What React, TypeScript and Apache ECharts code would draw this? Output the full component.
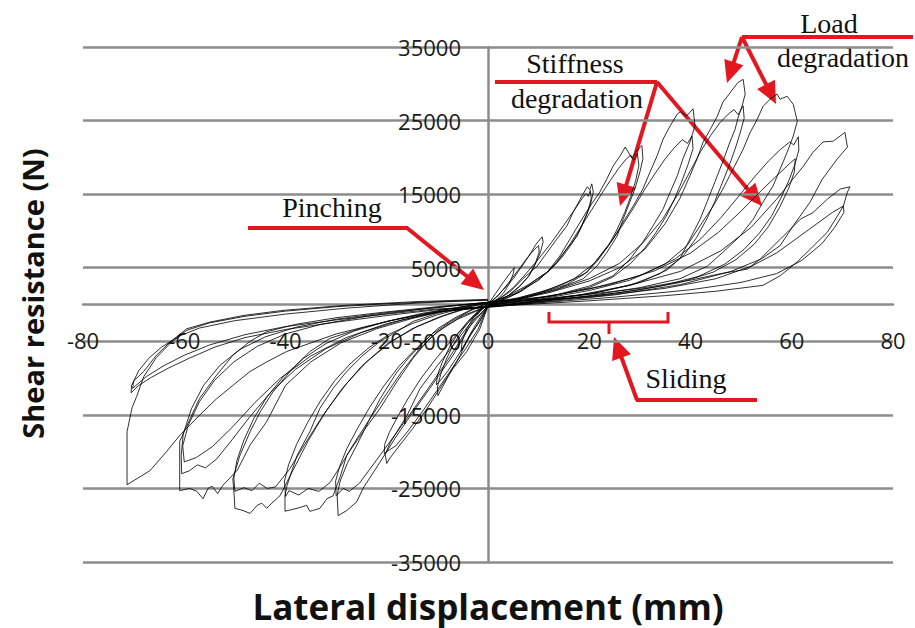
import React, { useEffect, useRef } from "react";
import * as echarts from "echarts";

// Axis ranges and tick steps
const xRange = [-80, 80];
const xStep = 20;
const yRange = [-35000, 35000];
const yStep = 10000;

// Hysteresis cycles: [displacement (mm), shear resistance (N)]
const cycle05 = [
  [0, 0], [1.5, 1500], [3, 3000], [4.5, 4400], [5.2, 5000], [5, 4200], [4.2, 2800], [3, 1500], [1.5, 500], [0, -100],
  [-1.5, -1700], [-3, -3400], [-4.5, -5300], [-5.3, -6300], [-5.1, -5000], [-4.2, -3300], [-2.8, -1700], [-1.2, -500], [0, 100],
];
const cycle10a = [
  [0, 0], [1.5, 900], [3, 2000], [5, 3500], [6.5, 5000], [8, 6500], [9.5, 8200], [10.7, 9200], [10.9, 8500], [10.3, 7000],
  [9.3, 5400], [8, 3800], [6.2, 2400], [4, 1200], [2, 400], [0, -200],
  [-1.6, -2300], [-3.6, -4200], [-5.5, -6900], [-7.5, -9300], [-9.9, -12400], [-10, -11200], [-9.3, -9400], [-8.2, -7400],
  [-6.8, -5400], [-5.2, -3600], [-3.4, -2000], [-1.6, -800], [0, 100],
];
const cycle10b = [
  [0, 100], [2, 1200], [4, 2900], [6, 4700], [7.8, 6400], [9.2, 7500], [10, 8000], [10.1, 7100], [9.4, 5700], [8.2, 4000],
  [6.4, 2600], [4.2, 1300], [2, 400], [0, -200],
  [-2, -2600], [-4, -4800], [-6, -7000], [-8, -9100], [-9.5, -10400], [-10.2, -10900], [-10, -9600], [-9, -7800], [-7.6, -5800],
  [-6, -4000], [-4, -2300], [-2, -900], [0, 100],
];
const cycle20a = [
  [0, 0], [2, 700], [4.3, 1700], [6.9, 3500], [9.7, 5200], [11.7, 7100], [13.6, 8900], [15.6, 10700], [16.8, 12500], [18.2, 14300],
  [19.6, 16000], [20.1, 15600], [20.5, 16400], [20.8, 15300], [20.2, 13400], [18.8, 11200], [17.6, 9300], [15.6, 7600], [13.6, 5800],
  [11.7, 4400], [8.9, 3100], [6.3, 1700], [3, 700], [0, -200],
  [-1.6, -3300], [-4.2, -6400], [-6.9, -8700], [-9.5, -11400], [-12, -14100], [-14.8, -16800], [-17.4, -19100], [-19.4, -20900],
  [-20, -21600], [-20.3, -20400], [-19.4, -18900], [-18, -17300], [-16, -15100], [-13.4, -11400], [-10, -8300], [-6.9, -5600],
  [-4, -3000], [-1.5, -900], [0, 100],
];
const cycle20b = [
  [0, 100], [2.5, 900], [5, 2300], [7.5, 4200], [10, 6200], [12.5, 8400], [15, 10800], [17, 12800], [18.6, 14400], [19.4, 15100],
  [19.8, 14700], [20.2, 15500], [20.4, 14400], [19.6, 12400], [18.3, 10300], [16.6, 8300], [14.6, 6400], [12.3, 4700], [9.6, 3200],
  [6.8, 1900], [3.6, 800], [0, -200],
  [-2, -3400], [-4.6, -6200], [-7.4, -9000], [-10.2, -11800], [-13, -14600], [-15.8, -17200], [-18.2, -19200], [-20, -20000],
  [-20.5, -20300], [-20.4, -19000], [-19.5, -17400], [-17.9, -15300], [-15.8, -12800], [-13.2, -10000], [-10.2, -7300], [-7, -4700],
  [-4, -2500], [-1.6, -900], [0, 100],
];
const cycle30a = [
  [0, 0], [4, 1200], [8, 2700], [11.7, 4400], [14.2, 6600], [16.2, 8900], [18.2, 11200], [20.2, 13400], [22.1, 15300], [23.5, 17100],
  [24.7, 18800], [26.1, 20200], [27.1, 21400], [28.4, 19900], [29.5, 21000], [30.4, 21600], [30.6, 19800], [30, 18000], [29, 15700],
  [28, 13900], [26.7, 11600], [25.5, 9300], [23.5, 7100], [21.5, 5200], [18.8, 3500], [14, 2200], [8, 1000], [0, -200],
  [-3, -2300], [-6.9, -6900], [-11.5, -11400], [-14.8, -14600], [-18, -17800], [-21.3, -21400], [-24.7, -25000], [-25.9, -26800],
  [-27.9, -28000], [-29.6, -28700], [-29.8, -25900], [-29.2, -24000], [-27.8, -21600], [-25.9, -19100], [-23.6, -15900],
  [-21.3, -12800], [-18, -9200], [-15.6, -7200], [-13.4, -5600], [-10, -3300], [-6.5, -1800], [-3, -600], [0, 200],
];
const cycle30b = [
  [0, 200], [5, 1400], [10, 3300], [13.5, 5600], [16, 8000], [18.4, 10600], [20.5, 12900], [22.4, 15000], [24.2, 16900],
  [25.8, 18500], [27.2, 19700], [28.2, 20300], [28.8, 19600], [29.5, 20500], [29.8, 18900], [29.2, 16900], [28.2, 14700],
  [27, 12500], [25.5, 10200], [23.8, 8000], [21.6, 5900], [19, 4100], [15.5, 2700], [10, 1500], [4, 400], [0, -200],
  [-4, -3300], [-8, -7600], [-12, -11600], [-15.6, -15100], [-19, -18300], [-22.4, -21500], [-25.4, -24300], [-27.4, -25400],
  [-28.6, -25000], [-30, -26000], [-30.1, -24000], [-29.3, -22000], [-27.9, -19600], [-25.9, -17000], [-23.4, -14000],
  [-20.6, -11100], [-17.6, -8400], [-14.4, -6100], [-11, -4000], [-7.4, -2300], [-3.6, -900], [0, 200],
];
const cycle40a = [
  [0, 0], [5, 700], [10, 1600], [15, 2800], [19.6, 4400], [22.1, 6600], [24.7, 8900], [26.7, 11200], [28.7, 13400], [30.6, 15700],
  [32, 18000], [33.4, 20200], [34.6, 22500], [36, 24300], [37.4, 25900], [38, 26200], [39.2, 25600], [40.5, 26600], [40.9, 24300],
  [39.9, 22100], [38.5, 19800], [37.4, 17500], [36, 15300], [34.6, 13000], [32.6, 10700], [30.6, 8500], [28.1, 6200], [24.7, 3900],
  [20, 2500], [14, 1400], [7, 600], [0, -200],
  [-4.9, -1500], [-8.1, -2800], [-11.5, -4600], [-14.8, -7300], [-18, -10500], [-21.3, -14100], [-24.7, -17300], [-27.9, -20500],
  [-29.2, -23400], [-30.6, -26000], [-31.8, -26400], [-33.2, -27700], [-34.6, -28000], [-35.2, -28100], [-35.8, -27300],
  [-37.7, -27700], [-40.1, -28100], [-40.1, -26000], [-39.7, -24600], [-37.7, -20500], [-35.2, -17300], [-33.2, -14100],
  [-30.6, -11400], [-27.9, -9100], [-24.7, -6900], [-21.3, -5000], [-18, -3700], [-14.8, -2300], [-10, -1200], [-5, -400], [0, 200],
];
const cycle40b = [
  [0, 200], [6, 900], [12, 2000], [17, 3500], [21, 5600], [24, 8200], [26.6, 10800], [28.9, 13300], [31, 15700], [33, 17800],
  [35, 19800], [36.8, 21300], [38.4, 22400], [39.4, 21900], [40.3, 22900], [40.5, 21200], [39.5, 19000], [38.2, 16600],
  [36.8, 14300], [35.2, 12000], [33.2, 9800], [31, 7700], [28.2, 5600], [24.6, 3700], [20, 2300], [13, 1200], [6, 400], [0, -200],
  [-6, -2000], [-10, -3700], [-13.6, -6100], [-17, -9100], [-20.2, -12300], [-23.4, -15600], [-26.4, -18800], [-29, -21800],
  [-31.2, -24200], [-33.4, -25400], [-35.5, -25000], [-37.4, -25900], [-39.3, -25300], [-40, -26100], [-40.2, -24000],
  [-39.4, -21800], [-37.8, -19000], [-35.6, -16000], [-33, -13000], [-30.2, -10300], [-27, -7900], [-23.4, -5800], [-19.4, -4000],
  [-15, -2600], [-10, -1400], [-5, -500], [0, 200],
];
const cycle50a = [
  [0, 0], [5, 600], [12, 1600], [20, 3200], [26, 5000], [31, 7500], [35, 11000], [37.9, 14400], [39.9, 17500], [41.3, 19800],
  [42.5, 22100], [43.9, 23800], [45.3, 25600], [46.4, 27500], [48.4, 29300], [49.4, 30200], [50.4, 30600], [50.8, 28600],
  [50.2, 27000], [49.4, 25400], [48.8, 23800], [47.8, 22100], [46.8, 20200], [45.8, 18400], [44.5, 16100], [43.3, 14000],
  [41.9, 11600], [39.9, 8900], [37.9, 6200], [34, 4200], [28, 2600], [20, 1400], [10, 500], [0, -300],
  [-4, -500], [-9, -1600], [-14, -3000], [-19, -5000], [-24, -7800], [-28, -10800], [-32, -14500], [-35.5, -18500],
  [-38.5, -22500], [-41.1, -26000], [-42.7, -27000], [-43.7, -27700], [-44.7, -27000], [-45.6, -27300], [-47, -28400],
  [-48.4, -28000], [-50, -27700], [-50.1, -26300], [-50.4, -23700], [-49, -20500], [-47, -17300], [-45, -14600], [-42.5, -11900],
  [-39.1, -9100], [-35.2, -6400], [-31.2, -4600], [-25, -3200], [-18, -2000], [-10, -900], [0, 300],
];
const cycle50b = [
  [0, 300], [6, 800], [13, 1900], [20, 3500], [26, 5600], [30.5, 8300], [34.5, 11600], [37.5, 15000], [40, 18200], [42, 20800],
  [44, 23000], [45.8, 24700], [47.5, 25900], [48.6, 26500], [49.4, 25800], [50.4, 27000], [50.6, 25300], [49.8, 23300],
  [48.8, 21100], [47.6, 18800], [46.2, 16400], [44.8, 14000], [43.2, 11600], [41.2, 9100], [38.8, 6800], [35.4, 4700], [30, 3000],
  [22, 1700], [12, 700], [0, -300],
  [-5, -600], [-10, -1800], [-15, -3300], [-20, -5400], [-25, -8400], [-29, -11600], [-32.8, -15300], [-36.2, -19000],
  [-39.2, -22400], [-42, -24800], [-43.6, -25000], [-45.2, -24300], [-46.6, -25300], [-48.2, -24900], [-50, -25400],
  [-50.2, -23600], [-49.6, -21200], [-48.2, -18400], [-46.2, -15400], [-43.6, -12500], [-40.4, -9800], [-36.6, -7400], [-32, -5300],
  [-26.4, -3600], [-20, -2300], [-13, -1200], [-6, -400], [0, 300],
];
const cycle60a = [
  [0, 0], [10, 700], [20, 1900], [28, 3300], [35, 5500], [39.3, 8000], [41.9, 10700], [44.5, 13400], [46.4, 15700], [48.4, 18400],
  [50.4, 21100], [51.8, 23400], [53.2, 25200], [54.3, 26900], [55.7, 27900], [56.3, 28200], [57.1, 28600], [57.7, 27900],
  [59.1, 28300], [60.3, 27200], [61.1, 24900], [60.3, 22900], [59.1, 20700], [57.7, 18400], [56.3, 16100], [54.3, 13900],
  [52.4, 11600], [49.8, 9300], [46.4, 7100], [43.3, 5200], [37.9, 3500], [30, 2300], [20, 1200], [10, 400], [0, -300],
  [-8, -800], [-15, -1900], [-22, -3300], [-29, -5200], [-35, -7800], [-40, -11000], [-43.7, -15900], [-47, -19100],
  [-49.5, -22500], [-52.4, -24600], [-53.4, -25700], [-54.5, -24700], [-55.3, -25000], [-56.3, -26400], [-57.5, -25400],
  [-58.9, -25000], [-60.9, -25300], [-60.9, -18600], [-57, -12800], [-53.6, -9600], [-50.4, -6900], [-47, -5000], [-43.7, -3700],
  [-38, -2700], [-30, -1800], [-20, -1000], [-10, -300], [0, 300],
];
const cycle60b = [
  [0, 300], [10, 900], [20, 2100], [30, 3900], [37, 6200], [42, 8900], [46, 11800], [49.5, 14700], [52.6, 17300], [55.4, 19500],
  [57.8, 21100], [59.6, 22100], [60.4, 21700], [61.3, 22800], [61.4, 21000], [60.6, 19000], [59.4, 16800], [57.8, 14400],
  [56, 12000], [53.6, 9700], [50.6, 7500], [46.8, 5500], [41.5, 3800], [34, 2500], [25, 1500], [14, 700], [0, -300],
  [-9, -900], [-17, -2100], [-25, -3800], [-32, -6000], [-38, -8800], [-43, -12000], [-47.2, -15400], [-50.8, -18600],
  [-53.6, -21000], [-55.8, -22200], [-57.4, -21800], [-59, -22600], [-60.5, -23000], [-60.6, -20500], [-60.2, -17600],
  [-58.6, -14200], [-56.2, -11000], [-53, -8300], [-49, -6100], [-44, -4400], [-38, -3100], [-30, -2000], [-20, -1100],
  [-10, -400], [0, 300],
];
const cycle60c = [
  [0, 300], [12, 1100], [24, 2700], [33, 4600], [40, 7000], [45.5, 9800], [50, 12700], [54, 15500], [57.5, 17800], [59.8, 19300],
  [60.7, 19800], [60.5, 18000], [59.4, 15800], [57.6, 13200], [55.4, 10600], [52.6, 8200], [49, 6100], [44.5, 4400], [38, 3000],
  [30, 2000], [20, 1100], [10, 400], [0, -300],
  [-10, -1000], [-20, -2600], [-28, -4500], [-35, -7000], [-41, -10000], [-46, -13300], [-50.4, -16600], [-54.4, -19300],
  [-57.6, -20800], [-60, -21400], [-60.3, -19200], [-59.2, -16400], [-57, -13200], [-54, -10300], [-50.2, -7800], [-45.6, -5700],
  [-40, -4000], [-33, -2700], [-24, -1600], [-14, -700], [0, 300],
];
const cycle70a = [
  [0, 0], [8, 400], [18, 1300], [28, 2600], [38, 4500], [46, 7300], [52, 10500], [57, 14300], [59.7, 16600], [62.3, 18800],
  [64.2, 20700], [66.2, 22100], [68.2, 22200], [70.5, 23400], [71, 21400], [69, 19800], [66, 17000], [63.6, 13900], [60.3, 10700],
  [57.7, 8000], [54, 6200], [48, 4500], [38, 2700], [25, 1300], [12, 400], [0, -400],
  [-10, -1000], [-20, -2300], [-30, -4000], [-39.8, -6400], [-43.7, -7800], [-47, -9100], [-50.4, -11000], [-53.6, -12800],
  [-56.9, -15000], [-60.9, -17800], [-63.5, -20000], [-66.8, -22600], [-71.3, -24500], [-71.3, -17300], [-70.3, -14000],
  [-69.4, -12500], [-68, -9800], [-65.5, -7200], [-62.8, -5300], [-59.5, -3500], [-55, -2500], [-48, -1600], [-40, -900],
  [-30, -300], [-20, 100], [-10, 400], [0, 600],
];
const cycle70b = [
  [0, 300], [10, 700], [20, 1400], [30, 2200], [40, 3300], [46, 4200], [51.2, 4800], [53.8, 6200], [56.3, 7900], [59.1, 9800],
  [61.7, 11600], [64.2, 12500], [67, 14300], [69.6, 15700], [71.5, 16000], [71, 15300], [70.2, 13400], [69, 12000], [67, 9800],
  [64.2, 7900], [61.1, 5800], [57.7, 3900], [54.3, 2600], [45, 1800], [35, 1200], [20, 500], [0, -300],
  [-10, -700], [-20, -1500], [-30, -2400], [-40, -3400], [-48, -4500], [-54, -5800], [-59, -7300], [-63, -8600], [-66.5, -9900],
  [-69, -11000], [-70.5, -12000], [-70.4, -11000], [-69, -9000], [-67, -7300], [-64.5, -5800], [-61, -4300], [-57, -3200],
  [-50, -2200], [-40, -1300], [-28, -500], [-14, 200], [0, 600],
];
const cycle70c = [
  [0, 300], [10, 600], [20, 1000], [35, 2200], [45, 3500], [52, 5200], [57, 7000], [61, 9000], [65, 11000], [68, 12500],
  [70.2, 13400], [70.3, 12500], [68.5, 10500], [66, 8300], [62, 6000], [57, 4200], [50, 3000], [40, 2000], [25, 1000], [0, -300],
  [-10, -600], [-20, -1300], [-30, -2100], [-40, -3000], [-48, -4100], [-55, -5500], [-60, -6900], [-64, -8300], [-67.5, -9800],
  [-70.2, -11400], [-70, -10400], [-68, -9100], [-65.5, -6900], [-62.8, -5100], [-59.5, -3300], [-55, -2400], [-48.4, -1500],
  [-40.5, -800], [-28, -100], [-14, 400], [0, 700],
];

const cycles = [
  cycle05, cycle10a, cycle10b, cycle20a, cycle20b, cycle30a, cycle30b, cycle40a, cycle40b,
  cycle50a, cycle50b, cycle60a, cycle60b, cycle60c, cycle70a, cycle70b, cycle70c,
];

const RED = "#e2171f";
const SERIF = '"Liberation Serif", "Times New Roman", serif';

// Plot area (pixels) and where the zero lines fall inside it
const GRID = { left: 83, right: 22, top: 47, bottom: 66 };
const PLOT_W = 915 - GRID.left - GRID.right;
const PLOT_H = 628 - GRID.top - GRID.bottom;
const X0_OFFSET = ((0 - xRange[0]) / (xRange[1] - xRange[0])) * PLOT_W; // from left edge to x = 0
const Y0_OFFSET = ((0 - yRange[0]) / (yRange[1] - yRange[0])) * PLOT_H; // from bottom edge to y = 0

function arrow(x1: number, y1: number, x2: number, y2: number, len = 22, half = 10): any[] {
  const dx = x2 - x1;
  const dy = y2 - y1;
  const L = Math.hypot(dx, dy);
  const ux = dx / L;
  const uy = dy / L;
  const bx = x2 - ux * len;
  const by = y2 - uy * len;
  return [
    { type: "line", shape: { x1, y1, x2: bx + ux * 2, y2: by + uy * 2 }, style: { stroke: RED, lineWidth: 4 } },
    {
      type: "polygon",
      shape: { points: [[x2, y2], [bx - uy * half, by + ux * half], [bx + uy * half, by - ux * half]] },
      style: { fill: RED },
    },
  ];
}

function label(text: string, x: number, y: number): any {
  return {
    type: "text",
    x,
    y,
    style: { text, font: `28px ${SERIF}`, fill: "#111", textAlign: "center", textVerticalAlign: "middle" },
  };
}

export default function App() {
  const ref = useRef<HTMLDivElement>(null);

  useEffect(() => {
    if (!ref.current) return;
    const chart = echarts.init(ref.current, undefined, { renderer: "svg" });

    const graphic: any[] = [
      // Load degradation
      { type: "line", shape: { x1: 742, y1: 37, x2: 913, y2: 37 }, style: { stroke: RED, lineWidth: 4 } },
      ...arrow(742, 37, 727, 83),
      ...arrow(742, 37, 776, 104),
      label("Load", 829, 23),
      label("degradation", 843, 57),
      // Stiffness degradation
      { type: "line", shape: { x1: 495, y1: 82, x2: 657, y2: 82 }, style: { stroke: RED, lineWidth: 4 } },
      ...arrow(657, 82, 620, 206),
      ...arrow(657, 82, 762, 206),
      label("Stiffness", 575, 63),
      label("degradation", 577, 98),
      // Pinching
      { type: "line", shape: { x1: 248, y1: 228, x2: 408, y2: 228 }, style: { stroke: RED, lineWidth: 4 } },
      ...arrow(407, 228, 484, 290),
      label("Pinching", 332, 207),
      // Sliding
      {
        type: "polyline",
        shape: { points: [[549, 312], [549, 322], [668, 322], [668, 312]] },
        style: { stroke: RED, lineWidth: 3, fill: "none" },
      },
      { type: "line", shape: { x1: 609, y1: 322, x2: 609, y2: 334 }, style: { stroke: RED, lineWidth: 3 } },
      { type: "line", shape: { x1: 757, y1: 400, x2: 636, y2: 400 }, style: { stroke: RED, lineWidth: 4 } },
      ...arrow(637, 400, 614, 337),
      label("Sliding", 686, 378),
    ];

    chart.setOption({
      animation: false,
      backgroundColor: "#ffffff",
      grid: { ...GRID, containLabel: false, outerBoundsMode: "none" },
      xAxis: {
        type: "value",
        min: xRange[0],
        max: xRange[1],
        interval: xStep,
        position: "bottom",
        offset: -Y0_OFFSET,
        name: "Lateral displacement (mm)",
        nameLocation: "middle",
        nameGap: 284,
        nameTextStyle: { fontFamily: "Open Sans", fontWeight: "bold", fontSize: 35, color: "#111" },
        axisLine: { onZero: false, lineStyle: { color: "#8c8c8c", width: 2.5 } },
        axisTick: { show: false },
        splitLine: { show: false },
        axisLabel: {
          margin: 24,
          fontFamily: "Open Sans",
          fontSize: 22,
          color: "#1a1a1a",
          formatter: (v: number) => String(v),
        },
      },
      yAxis: {
        type: "value",
        min: yRange[0],
        max: yRange[1],
        interval: yStep,
        position: "left",
        offset: -X0_OFFSET,
        name: "Shear resistance (N)",
        nameLocation: "middle",
        nameGap: 441,
        nameTextStyle: {
          fontFamily: "Open Sans",
          fontWeight: "bold",
          fontSize: 29,
          color: "#111",
          padding: [0, 0, 0, 22],
        },
        axisLine: { onZero: false, lineStyle: { color: "#8c8c8c", width: 2.5 } },
        axisTick: { show: false },
        splitLine: { show: true, lineStyle: { color: "#8c8c8c", width: 2.5 } },
        axisLabel: {
          margin: 27,
          fontFamily: "Open Sans",
          fontSize: 22,
          color: "#1a1a1a",
          formatter: (v: number) => String(v),
        },
      },
      series: cycles.map((c, i) => ({
        type: "line",
        name: `cycle ${i + 1}`,
        data: c,
        showSymbol: false,
        symbol: "none",
        silent: true,
        clip: false,
        lineStyle: { color: "#000000", width: 0.9, opacity: 0.9 },
        z: 3,
      })),
      graphic,
    });

    return () => chart.dispose();
  }, []);

  return <div ref={ref} style={{ position: "fixed", left: 0, top: 0, width: 915, height: 628 }} />;
}
